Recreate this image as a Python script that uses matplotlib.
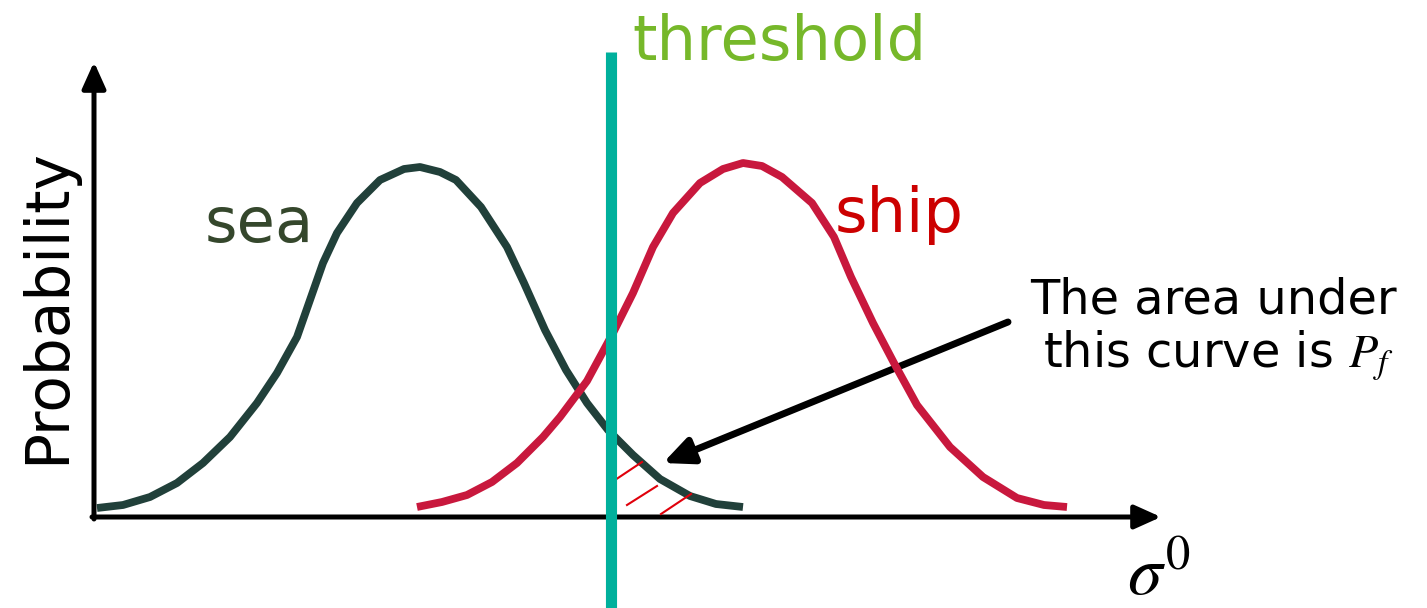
import matplotlib
matplotlib.use('Agg')
import matplotlib.pyplot as plt
from matplotlib.patches import FancyArrowPatch

plt.rcParams['font.family'] = ['DejaVu Sans']
plt.rcParams['mathtext.fontset'] = 'stix'

# Curves (origin at the axis corner, y = probability)
sea_x = [3, 29, 56, 83, 109, 136, 163, 183, 203, 216, 229, 243, 263, 286, 310, 326,
         346, 362, 387, 413, 430, 451, 472, 493, 514, 539, 566, 596, 622, 649]
sea_y = [9, 12, 20, 34, 54, 80, 114, 144, 180, 217, 254, 284, 314, 337, 348, 350,
         345, 337, 310, 270, 234, 187, 147, 114, 87, 62, 38, 21, 13, 10]

ship_x = [323, 348, 373, 398, 423, 449, 466, 493, 519, 539, 559, 579, 606, 629, 649,
          668, 688, 718, 740, 757, 779, 800, 823, 856, 889, 923, 950, 973]
ship_y = [10, 15, 22, 35, 54, 80, 100, 136, 184, 224, 270, 304, 334, 348, 354,
          351, 340, 314, 280, 240, 194, 154, 112, 70, 40, 19, 12, 10]

threshold_x = 517

# short red strokes marking the false-alarm area
hatch_x = [(518, 548), (533, 563), (567, 597)]
hatch_y = [(35, 55), (12, 31), (3, 23)]

fig = plt.figure(figsize=(14.27, 6.08), dpi=100)
ax = fig.add_axes([0, 0, 1, 1])
ax.set_xlim(-94, 1333)
ax.set_ylim(-91, 517)
ax.axis('off')

# axes with arrows
for start, end in [((0, -2), (0, 455)), ((-2, 0), (1067, 0))]:
    ax.add_patch(FancyArrowPatch(start, end, arrowstyle='-|>,head_length=1.0,head_width=0.45',
                                 mutation_scale=16, lw=3.6, color='black',
                                 shrinkA=0, shrinkB=0))

ax.plot(sea_x, sea_y, color='#21403A', lw=5.6, solid_capstyle='butt', solid_joinstyle='round')
ax.plot(ship_x, ship_y, color='#C8183D', lw=5.6, solid_capstyle='butt', solid_joinstyle='round')

for hx, hy in zip(hatch_x, hatch_y):
    ax.plot(hx, hy, color='#E0000B', lw=1.5)

ax.plot([threshold_x, threshold_x], [-91, 465], color='#00B09C', lw=8, solid_capstyle='butt')

ax.text(538, 457, 'threshold', color='#76B82A', fontsize=45, ha='left', va='baseline')
ax.text(111, 275, 'sea', color='#35472C', fontsize=45, ha='left', va='baseline')
ax.text(741, 285, 'ship', color='#CC0000', fontsize=45, ha='left', va='baseline')
ax.text(-46, 211, 'Probability', color='black', fontsize=43, rotation=90,
        ha='center', va='center')
ax.text(1033, -78, r'$\sigma^0$', color='black', fontsize=50, ha='left', va='baseline')

ax.text(1303, 204, 'The area under', color='black', fontsize=34.5, ha='right', va='baseline')
ax.text(1300, 149, r'this curve is $P_f$', color='black', fontsize=34.5, ha='right', va='baseline')

ax.add_patch(FancyArrowPatch((914, 195), (569, 54),
                             arrowstyle='-|>,head_length=1.1,head_width=0.5',
                             mutation_scale=16, lw=5, color='black',
                             shrinkA=0, shrinkB=0))

fig.savefig('out.png', dpi=100, facecolor='white')
